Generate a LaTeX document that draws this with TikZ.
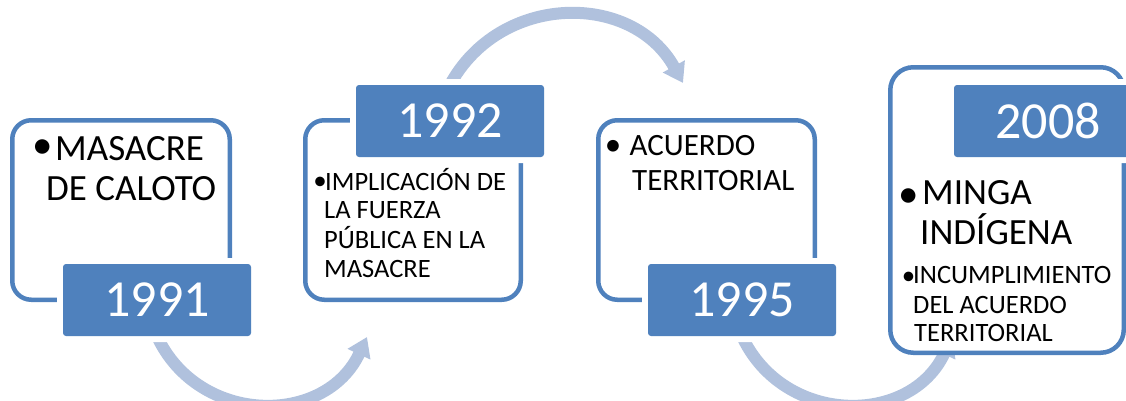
\documentclass[tikz,border=0pt]{standalone}
\usepackage{fontspec}
\setmainfont{Carlito}
\usetikzlibrary{arrows.meta}
\pgfdeclarelayer{background}
\pgfsetlayers{background,main}
\definecolor{boxblue}{RGB}{79,129,189}
\definecolor{arcblue}{RGB}{176,193,221}
\tikzset{
  textbox/.style={draw=boxblue, line width=4.5pt, fill=white, rounded corners=19pt, inner sep=0pt},
  yearbox/.style={fill=boxblue, rounded corners=3pt, minimum width=188pt, minimum height=72pt,
    inner sep=0pt, text=white, font=\fontsize{52}{52}\selectfont,
    preaction={draw=white, line width=12pt}},
  flow/.style={draw=arcblue, line width=12pt, -{Triangle[width=24pt,length=19pt]}},
  txtL/.style={anchor=base west, inner sep=0pt, font=\fontsize{37}{40}\selectfont},
  txtM/.style={anchor=base west, inner sep=0pt, font=\fontsize{31}{35}\selectfont},
  txtS/.style={anchor=base west, inner sep=0pt, font=\fontsize{26.5}{29}\selectfont},
  bulL/.style={anchor=center, inner sep=0pt, font=\fontsize{41}{41}\selectfont},
  bulM/.style={anchor=center, inner sep=0pt, font=\fontsize{33}{33}\selectfont},
  bulS/.style={anchor=center, inner sep=0pt, font=\fontsize{27}{27}\selectfont},
}
\begin{document}
\begin{tikzpicture}[x=1pt,y=1pt]
\useasboundingbox (0,0) rectangle (1126,400);
% text boxes
\node[textbox, minimum width=217.5pt, minimum height=179.5pt] (t1) at (121,190) {};
\node[textbox, minimum width=215.5pt, minimum height=179.5pt] (t2) at (413,190) {};
\node[textbox, minimum width=216.5pt, minimum height=179.5pt] (t3) at (706.5,190) {};
\node[textbox, minimum width=233.5pt, minimum height=285.5pt, rounded corners=23pt] (t4) at (1007,190) {};
% year boxes
\node[yearbox] (y1991) at (157,100) {1991};
\node[yearbox] (y1992) at (450,279) {1992};
\node[yearbox] (y1995) at (742,100) {1995};
\node[yearbox] (y2008) at (1048,279) {2008};
% arrow tips
\coordinate (tip1) at (367,63);
\coordinate (tip2) at (683,317);
\coordinate (tip3) at (952,63);
% flow arcs (behind boxes)
\begin{pgfonlayer}{background}
\draw[flow] (y1991.south) to[out=-65, in=-115, looseness=1.2] (tip1);
\draw[flow] (y1992.north) to[out=61.5, in=119, looseness=1.15] (tip2);
\draw[flow] (y1995.south) to[out=-65, in=-115, looseness=1.2] (tip3);
\end{pgfonlayer}
% box 1 text
\node[bulL] (b1) at (42.5,250.5) {•};
\node[txtL] (l1a) at (55,240) {MASACRE};
\node[txtL] (l1b) at (46,200) {DE CALOTO};
% box 2 text
\node[bulS] (b2) at (320,217) {•};
\node[txtS] (l2a) at (325,210) {IMPLICACIÓN DE};
\node[txtS] (l2b) at (324,181.7) {LA FUERZA};
\node[txtS] (l2c) at (324,151.7) {PÚBLICA EN LA};
\node[txtS] (l2d) at (324,122.7) {MASACRE};
% box 3 text
\node[bulM] (b3) at (613,252.5) {•};
\node[txtM] (l3a) at (629.5,245) {ACUERDO};
\node[txtM] (l3b) at (632,210) {TERRITORIAL};
% box 4 text
\node[bulL] (b4) at (909,202) {•};
\node[txtL] (l4a) at (922,196) {MINGA};
\node[txtL] (l4b) at (920,156) {INDÍGENA};
\node[bulS] (b5) at (908.5,122) {•};
\node[txtS] (l4c) at (913,116.7) {INCUMPLIMIENTO};
\node[txtS] (l4d) at (913,86.7) {DEL ACUERDO};
\node[txtS] (l4e) at (914,58.3) {TERRITORIAL};
\end{tikzpicture}
\end{document}
